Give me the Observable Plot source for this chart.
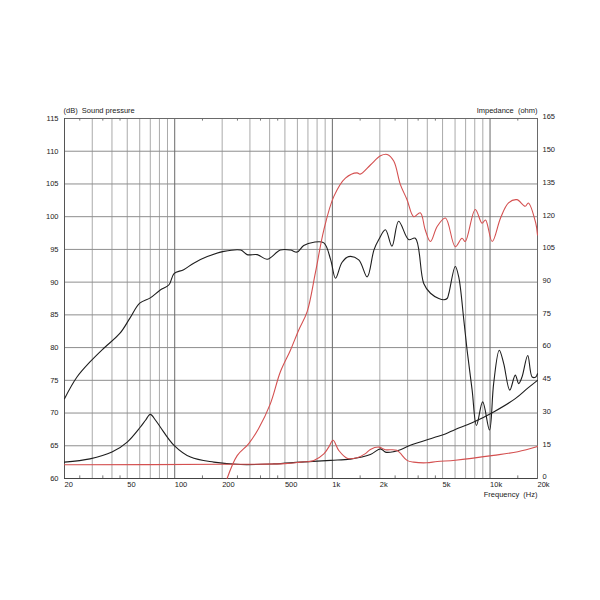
<!DOCTYPE html>
<html><head><meta charset="utf-8">
<script src="https://cdn.jsdelivr.net/npm/d3@7"></script>
<script src="https://cdn.jsdelivr.net/npm/@observablehq/plot@0.6"></script>
<style>
body{margin:0;background:#fff}
#chart{position:absolute;left:0;top:0}
svg text{white-space:pre}
</style>
</head><body><div id="chart"></div>
<script>
// ---- data ----
// Black sound pressure curve (dB)
const blackSplFreq = [20,24,29,35.5,45,52,60,70,81,92,99,114,132,161,205,262,288,334,386,468,542,598,658,763,883,976,1047,1150,1268,1470,1662,1834,1970,2170,2388,2632,3046,3360,3797,4190,4730,5100,5340,5480,6020,6330,6820,7154,7700,8200,8980,9920,10540,11440,12200,13340,14460,15200,15950,17340,18500,19500,20000];
const blackSplDb   = [72.2,75.5,77.8,79.9,82.2,84.5,86.8,87.6,88.8,89.6,91.3,91.9,92.9,93.9,94.7,94.9,94.2,94.2,93.5,94.9,94.9,94.6,95.6,96.1,96.0,93.4,90.6,93.0,93.9,93.4,90.8,94.9,96.5,98.0,95.5,99.3,96.5,96.7,89.8,88.3,87.5,87.3,87.5,88.3,92.4,90.8,84.2,79.6,73.5,68.1,71.7,67.4,74.5,79.6,77.6,73.5,75.8,74.5,75.5,78.8,75.5,75.5,76.0];

// Red sound pressure curve (dB)
const redSplFreq = [215,249,294,340,404,468,542,612,692,780,883,1022,1210,1434,1500,1742,2020,2226,2450,2700,2976,3280,3610,3880,4190,4620,5214,6020,6640,6960,8060,8900,9360,10320,11660,13100,14800,16700,17500,19500,20000];
const redSplDb   = [60,63.5,65.3,67.6,71.4,76.3,79.6,82.7,85.5,91.4,98.0,103.1,105.9,106.7,106.5,107.9,109.3,109.5,108.5,104.9,102.6,100.0,100.6,98.0,96.2,98.5,99.8,95.4,96.7,96.2,101.1,99.0,99.5,96.2,99.8,102.1,102.6,101.6,102.1,99.0,97.2];

// Black impedance curve (ohm)
const blackImpFreq = [20,29,40,50,60.6,65.3,70,75.6,81,99,126,177,262,425,627,976,1300,1742,2020,2170,2450,2700,3120,4380,5200,6020,7700,10540,14460,17340,20000];
const blackImpOhm  = [7.5,9.0,12.1,16.7,23.6,26.7,29.4,26.7,23.6,15.2,9.8,7.5,6.4,6.7,7.5,8.3,8.9,11.0,13.6,12.1,12.3,13.2,15.2,18.7,20.4,22.5,25.5,30.5,36.6,41.4,45.0];

// Red impedance curve (ohm)
const redImpFreq = [20,200,500,627,763,883,950,1010,1097,1240,1434,1620,1742,1970,2170,2560,2976,3280,3960,4620,6020,10540,15000,20000];
const redImpOhm  = [6.3,6.5,6.8,7.5,8.3,11.3,14.5,17.5,12.9,9.3,9.5,11.4,13.3,14.4,13.2,12.9,8.3,7.5,7.2,7.8,8.4,10.6,12.3,14.7];

// axes
const dbTicks = [60,65,70,75,80,85,90,95,100,105,110,115];
const freqLabels = [20,50,100,200,500,1000,2000,5000,10000,20000];
const freqLabelText = ["20","50","100","200","500","1k","2k","5k","10k","20k"];
const gridFreqs = [30,40,50,60,70,80,90,200,300,400,500,600,700,800,900,2000,3000,4000,5000,6000,7000,8000,9000];
const decadeFreqs = [100,1000,10000];
const minorFreqs = [25,35,45,150,250,350,450,1500,2500,3500,4500,15000];

// impedance axis maps 0..165 ohm onto 60..115 dB
const ohmToDb = o => 60 + o / 3;
const dbToOhm = d => Math.round((d - 60) * 3);

const zip = (fs, vs, conv = v => v) => fs.map((f, i) => ({f, v: conv(vs[i])}));
const xLabelData = freqLabels.map((f, i) => ({f, t: freqLabelText[i]}));

const black = "#1e1e1e";
const red = "#d45050";

const chart = Plot.plot({
  width: 600, height: 600,
  marginLeft: 64, marginRight: 63, marginTop: 118, marginBottom: 122,
  style: {fontFamily: "'Liberation Sans', Arial, sans-serif", fontSize: "7.5px", color: "#222", background: "#fff"},
  x: {type: "log", domain: [20, 20000], axis: null},
  y: {domain: [60, 115], axis: null},
  marks: [
    Plot.ruleX(gridFreqs, {stroke: "#aaaaaa", strokeWidth: 1}),
    Plot.ruleY(dbTicks, {stroke: "#8e8e8e", strokeWidth: 1}),
    Plot.ruleX(decadeFreqs, {stroke: "#6a6a6a", strokeWidth: 1}),
    Plot.ruleX(minorFreqs, {y1: 60, y2: 60.4, stroke: "#777"}),
    Plot.ruleX(minorFreqs, {y1: 114.6, y2: 115, stroke: "#777"}),
    Plot.frame({stroke: "#6a6a6a"}),
    Plot.ruleY([60], {stroke: "#444"}),
    Plot.ruleX([20], {stroke: "#555"}),
    Plot.axisY({anchor: "left", ticks: dbTicks, tickSize: 0, tickPadding: 6, label: null}),
    Plot.axisY({anchor: "right", ticks: dbTicks, tickSize: 0, tickPadding: 5, label: null, tickFormat: dbToOhm, dy: -1.5}),
    Plot.text(xLabelData, {x: "f", y: () => 60, text: "t", textAnchor: "start", lineAnchor: "top", dy: 3.5, fill: "#222"}),
    Plot.line(zip(blackImpFreq, blackImpOhm, ohmToDb), {x: "f", y: "v", stroke: black, strokeWidth: 1.1, curve: "catmull-rom"}),
    Plot.line(zip(redImpFreq, redImpOhm, ohmToDb), {x: "f", y: "v", stroke: red, strokeWidth: 1.1, curve: "catmull-rom"}),
    Plot.line(zip(blackSplFreq, blackSplDb), {x: "f", y: "v", stroke: black, strokeWidth: 1.1, curve: "catmull-rom"}),
    Plot.line(zip(redSplFreq, redSplDb), {x: "f", y: "v", stroke: red, strokeWidth: 1.1, curve: "catmull-rom"}),
    Plot.text(["(dB)  Sound pressure"], {frameAnchor: "top-left", textAnchor: "start", lineAnchor: "bottom", dx: -1, dy: -6, fill: "#222"}),
    Plot.text(["Impedance  (ohm)"], {frameAnchor: "top-right", textAnchor: "end", lineAnchor: "bottom", dy: -6, fill: "#222"}),
    Plot.text(["Frequency  (Hz)"], {frameAnchor: "bottom-right", textAnchor: "end", lineAnchor: "middle", dy: 16, fill: "#222"})
  ]
});
document.getElementById("chart").appendChild(chart);
</script>
</body></html>
